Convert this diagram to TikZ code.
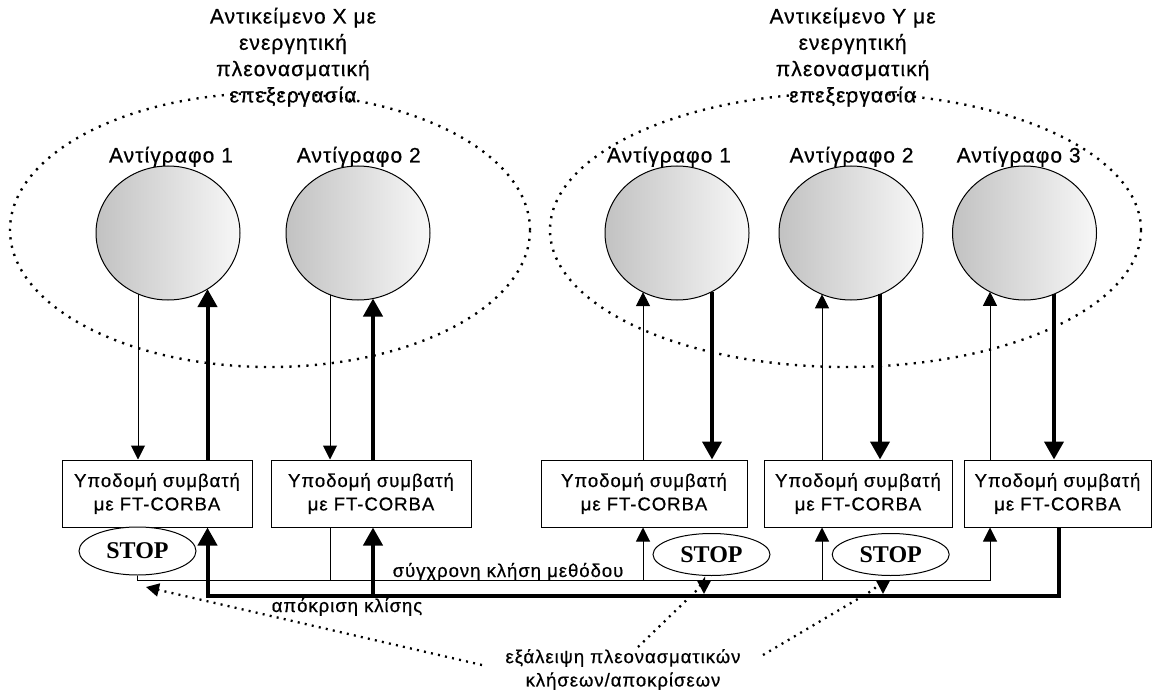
\documentclass[tikz,border=0pt]{standalone}
\usepackage{fontspec}
\setmainfont{Liberation Sans}[LetterSpace=5,FakeBold=0.6]
\newfontfamily\stopfont{Liberation Serif}
\usetikzlibrary{shapes.geometric,arrows.meta}
\definecolor{shadeL}{gray}{0.76}
\definecolor{shadeR}{gray}{0.97}
\begin{document}
\begin{tikzpicture}[x=1pt,y=-1pt,
  grp/.style={ellipse, draw, line width=2.4pt, dash pattern=on 2.2pt off 6.3pt, line cap=butt, inner sep=0pt, minimum height=274pt},
  rep/.style={ellipse, draw, line width=1pt, minimum width=144pt, minimum height=134pt, inner sep=0pt, left color=shadeL, right color=shadeR},
  box/.style={draw, line width=1pt, fill=white, minimum width=#1, minimum height=67pt, inner sep=0pt, align=center, font=\fontsize{18.6}{23.4}\selectfont},
  stopnode/.style={ellipse, draw, line width=1pt, fill=white, minimum width=117pt, inner sep=0pt, font=\stopfont\bfseries\fontsize{24}{24}\selectfont},
  big/.style={inner sep=0pt, align=center, font=\fontsize{21}{26.3}\selectfont},
  txt/.style={inner sep=0pt, align=center, font=\fontsize{18.6}{23.4}\selectfont},
  thinline/.style={line width=1pt},
  thinarr/.style={line width=1pt, -{Triangle[length=14pt,width=14pt]}},
  thickarr/.style={line width=4pt, line join=miter, -{Triangle[length=18pt,width=19pt]}},
  dotarr/.style={line width=2.3pt, dash pattern=on 2pt off 5.2pt, line cap=butt, -{Triangle[length=13pt,width=13pt]}}
]
\useasboundingbox (0,0) rectangle (1152,690);

% dotted groups
\node[grp, minimum width=520pt] (gX) at (270,230) {};
\node[grp, minimum width=591pt] (gY) at (845.5,230) {};

% titles
\node[big] (tX) at (293,57.2) {Αντικείμενο Χ με\\ενεργητική\\πλεονασματική\\επεξεργασία};
\node[big] (tY) at (852.6,57.2) {Αντικείμενο Υ με\\ενεργητική\\πλεονασματική\\επεξεργασία};

% replica labels
\node[big, anchor=base] (l1) at (171,162.5) {Αντίγραφο 1};
\node[big, anchor=base] (l2) at (358.8,162.5) {Αντίγραφο 2};
\node[big, anchor=base] (l3) at (669,162.5) {Αντίγραφο 1};
\node[big, anchor=base] (l4) at (851.6,162.5) {Αντίγραφο 2};
\node[big, anchor=base] (l5) at (1018.7,162.5) {Αντίγραφο 3};

% replicas
\node[rep] (c1) at (168,233) {};
\node[rep] (c2) at (358,233) {};
\node[rep] (c3) at (677,233) {};
\node[rep] (c4) at (851,233) {};
\node[rep] (c5) at (1024.5,233) {};

% infrastructure boxes
\node[box=190pt] (B1) at (157,493.5) {Υποδομή συμβατή\\με FT-CORBA};
\node[box=200pt] (B2) at (371,493.5) {Υποδομή συμβατή\\με FT-CORBA};
\node[box=206pt] (B3) at (644,493.5) {Υποδομή συμβατή\\με FT-CORBA};
\node[box=188pt] (B4) at (858,493.5) {Υποδομή συμβατή\\με FT-CORBA};
\node[box=187pt] (B5) at (1057.5,493.5) {Υποδομή συμβατή\\με FT-CORBA};

% STOP marks
\node[stopnode, minimum height=48pt] (s1) at (137.5,551) {STOP};
\node[stopnode, minimum height=42pt] (s2) at (711.5,554.5) {STOP};
\node[stopnode, minimum height=42pt] (s3) at (890.7,554.5) {STOP};

% points on replica borders
\coordinate (c1b) at (138,294);
\coordinate (c1t) at (207.5,289);
\coordinate (c2b) at (330,294.7);
\coordinate (c2t) at (373,298.5);
\coordinate (c3b) at (643,292.1);
\coordinate (c3t) at (712,291.6);
\coordinate (c4b) at (822,294.3);
\coordinate (c4t) at (880,294.3);
\coordinate (c5b) at (990,291.8);
\coordinate (c5t) at (1054,294.1);

% replica <-> infrastructure
\draw[thinarr] (c1b) -- (B1.north -| c1b);
\draw[thickarr] (B1.north -| c1t) -- (c1t);
\draw[thinarr] (c2b) -- (B2.north -| c2b);
\draw[thickarr] (B2.north -| c2t) -- (c2t);
\draw[thinarr] (B3.north -| c3b) -- (c3b);
\draw[thickarr] (c3t) -- (B3.north -| c3t);
\draw[thinarr] (B4.north -| c4b) -- (c4b);
\draw[thickarr] (c4t) -- (B4.north -| c4t);
\draw[thinarr] (B5.north -| c5b) -- (c5b);
\draw[thickarr] (c5t) -- (B5.north -| c5t);

% synchronous call line
\coordinate (sE) at (990,580);
\coordinate (j2) at (330,580);
\coordinate (j3) at (643,580);
\coordinate (j4) at (822,580);
\draw[thinarr] (s1.south) -- (s1.south |- sE) -- (sE) -- (B5.south -| sE);
\draw[thinline] (B2.south -| j2) -- (j2);
\draw[thinarr] (j3) -- (B3.south -| j3);
\draw[thinarr] (j4) -- (B4.south -| j4);

% response line
\coordinate (r5) at (1059,596);
\coordinate (r1) at (207.5,596);
\coordinate (r2) at (373,596);
\draw[thickarr] (B5.south -| r5) -- (r5) -- (r1) -- (B1.south -| r1);
\draw[thickarr] (r2) -- (B2.south -| r2);

% line labels
\node[txt, anchor=base] (sync) at (508,577) {σύγχρονη κλήση μεθόδου};
\node[txt, anchor=base] (resp) at (347,612) {απόκριση κλίσης};

% note
\node[txt] (note) at (623,669.7) {εξάλειψη πλεονασματικών\\κλήσεων/αποκρίσεων};
\coordinate (n1) at (482,665);
\coordinate (n2) at (638,647);
\coordinate (n3) at (763,655);
\coordinate (t1) at (146,587);
\coordinate (t2) at (704,594);
\coordinate (t3) at (883,594);
\draw[dotarr] (n1) -- (t1);
\draw[dotarr] (n2) -- (697,590) -- (704,580) -- (t2);
\draw[dotarr] (n3) -- (873,590) -- (883,580) -- (t3);
\end{tikzpicture}
\end{document}
